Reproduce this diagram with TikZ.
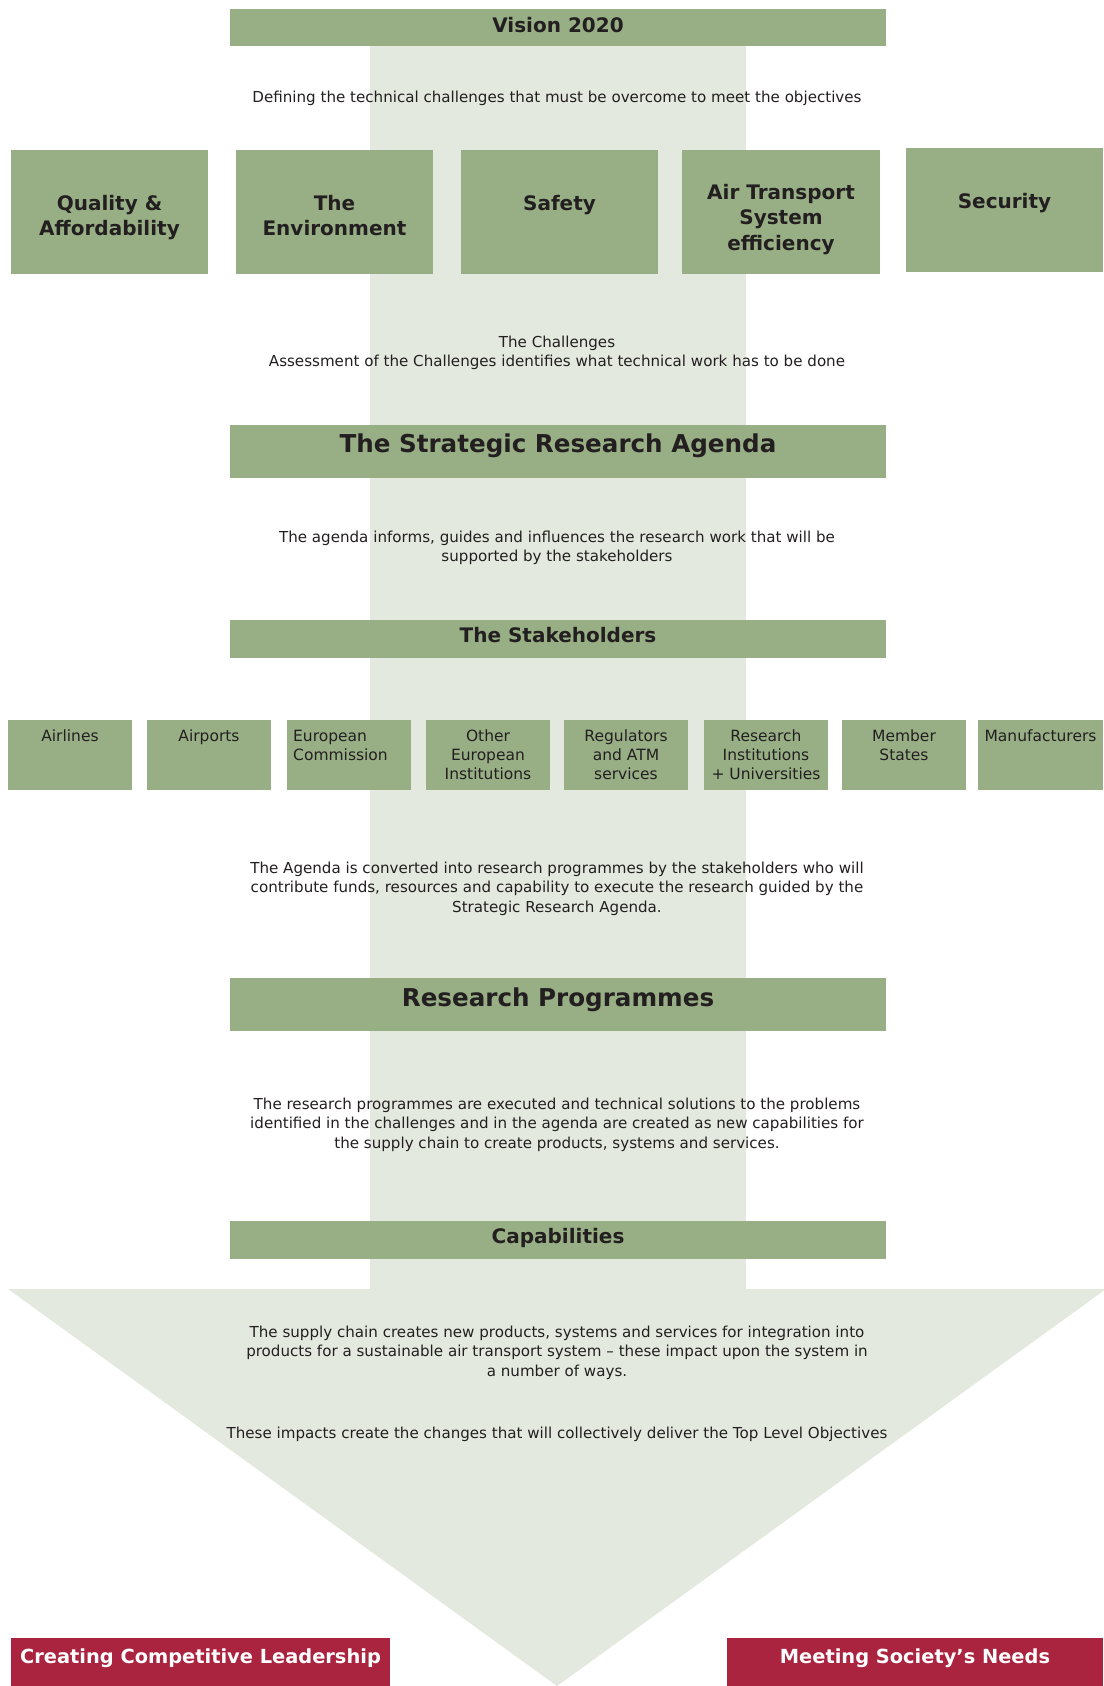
\documentclass[tikz,border=0pt]{standalone}
\usepackage{fontspec}
\setmainfont{DejaVu Sans}
\definecolor{boxgreen}{RGB}{152,175,133}
\definecolor{lightgreen}{RGB}{227,233,222}
\definecolor{darkred}{RGB}{170,36,63}
\definecolor{ink}{RGB}{35,31,32}
\tikzset{
  gbox/.style={fill=boxgreen, draw=none, inner sep=0pt, outer sep=0pt, anchor=north west},
  rbox/.style={fill=darkred, draw=none, inner sep=0pt, outer sep=0pt, anchor=north west},
  para/.style={font=\fontsize{15.1}{19.5}\selectfont, text=ink, align=center, inner sep=0pt, anchor=north},
  sbtext/.style={font=\fontsize{15.5}{19}\selectfont, text=ink, align=center, inner sep=0pt, anchor=north},
  ttl/.style={font=\bfseries\fontsize{20}{25.5}\selectfont, text=ink, align=center, inner sep=0pt, anchor=north},
  bigttl/.style={font=\bfseries\fontsize{24.6}{30}\selectfont, text=ink, align=center, inner sep=0pt, anchor=north},
  redttl/.style={font=\bfseries\fontsize{19.4}{25.5}\selectfont, text=white, align=center, inner sep=0pt, anchor=north},
}
\begin{document}
\begin{tikzpicture}[x=1pt,y=-1pt]
\useasboundingbox (0,0) rectangle (1103,1686);
\fill[white] (0,0) rectangle (1103,1686);
% background arrow
\fill[lightgreen] (370,46) rectangle (746,1290);
\fill[lightgreen] (8,1289) -- (1106,1289) -- (557,1686) -- cycle;

% wide boxes
\node[gbox, minimum width=656, minimum height=37] (vision) at (230,9) {};
\node[gbox, minimum width=656, minimum height=53] (sra) at (230,425) {};
\node[gbox, minimum width=656, minimum height=38] (stake) at (230,620) {};
\node[gbox, minimum width=656, minimum height=53] (rp) at (230,978) {};
\node[gbox, minimum width=656, minimum height=38] (capab) at (230,1221) {};

\node[ttl] (t-vision) at (558,14.15) {\strut Vision 2020};
\node[bigttl] (t-sra) at (558,431) {\strut The Strategic Research Agenda};
\node[ttl] (t-stake) at (558,624.15) {\strut The Stakeholders};
\node[bigttl] (t-rp) at (558,985) {\strut Research Programmes};
\node[ttl] (t-capab) at (558,1225.15) {\strut Capabilities};

% challenge boxes
\node[gbox, minimum width=197, minimum height=124] (qa) at (11,150) {};
\node[gbox, minimum width=197, minimum height=124] (env) at (236,150) {};
\node[gbox, minimum width=197, minimum height=124] (safe) at (461,150) {};
\node[gbox, minimum width=198, minimum height=124] (ats) at (682,150) {};
\node[gbox, minimum width=197, minimum height=124] (sec) at (906,148) {};

\node[ttl] (t-qa) at (109.5,192.15) {\strut Quality \&\\Affordability};
\node[ttl] (t-env) at (334.5,192.15) {\strut The\\Environment};
\node[ttl] (t-safe) at (559.5,192.15) {\strut Safety};
\node[ttl] (t-ats) at (781,181.15) {\strut Air Transport\\System\\efficiency};
\node[ttl] (t-sec) at (1004.5,190.15) {\strut Security};

% stakeholder boxes
\node[gbox, minimum width=124, minimum height=70] (s1) at (8,720) {};
\node[gbox, minimum width=124, minimum height=70] (s2) at (147,720) {};
\node[gbox, minimum width=124, minimum height=70] (s3) at (287,720) {};
\node[gbox, minimum width=124, minimum height=70] (s4) at (426,720) {};
\node[gbox, minimum width=124, minimum height=70] (s5) at (564,720) {};
\node[gbox, minimum width=124, minimum height=70] (s6) at (704,720) {};
\node[gbox, minimum width=124, minimum height=70] (s7) at (842,720) {};
\node[gbox, minimum width=125, minimum height=70] (s8) at (978,720) {};

\node[sbtext] (t-s1) at (70,727.7) {\strut Airlines};
\node[sbtext] (t-s2) at (209,727.7) {\strut Airports};
\node[sbtext, align=left, anchor=north west] (t-s3) at (293,727.7) {\strut European\\Commission};
\node[sbtext] (t-s4) at (488,727.7) {\strut Other\\European\\Institutions};
\node[sbtext] (t-s5) at (626,727.7) {\strut Regulators\\and ATM\\services};
\node[sbtext] (t-s6) at (766,727.7) {\strut Research\\Institutions\\+ Universities};
\node[sbtext] (t-s7) at (904,727.7) {\strut Member\\States};
\node[sbtext] (t-s8) at (1040.5,727.7) {\strut Manufacturers};

% paragraphs
\node[para] (p1) at (557,88.35) {\strut Defining the technical challenges that must be overcome to meet the objectives};
\node[para] (p2) at (557,333.35) {\strut The Challenges\\Assessment of the Challenges identifies what technical work has to be done};
\node[para] (p3) at (557,528.35) {\strut The agenda informs, guides and influences the research work that will be\\supported by the stakeholders};
\node[para] (p4) at (557,859.35) {\strut The Agenda is converted into research programmes by the stakeholders who will\\contribute funds, resources and capability to execute the research guided by the\\Strategic Research Agenda.};
\node[para] (p5) at (557,1095.35) {\strut The research programmes are executed and technical solutions to the problems\\identified in the challenges and in the agenda are created as new capabilities for\\the supply chain to create products, systems and services.};
\node[para] (p6) at (557,1323.35) {\strut The supply chain creates new products, systems and services for integration into\\products for a sustainable air transport system – these impact upon the system in\\a number of ways.};
\node[para] (p7) at (557,1425) {\strut These impacts create the changes that will collectively deliver the Top Level Objectives};

% red boxes
\node[rbox, minimum width=379, minimum height=48] (ccl) at (11,1638) {};
\node[rbox, minimum width=376, minimum height=48] (msn) at (727,1638) {};
\node[redttl] (t-ccl) at (200.5,1645.15) {\strut Creating Competitive Leadership};
\node[redttl] (t-msn) at (915,1645.15) {\strut Meeting Society’s Needs};
\end{tikzpicture}
\end{document}
